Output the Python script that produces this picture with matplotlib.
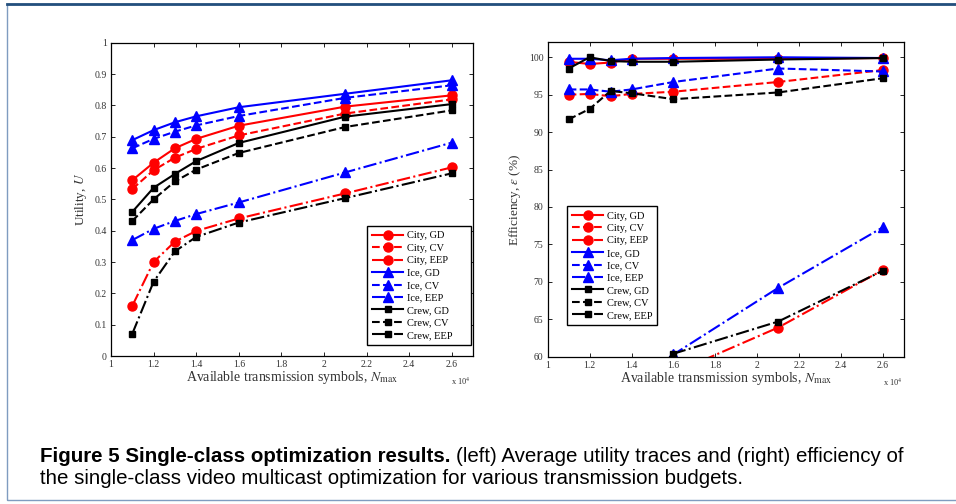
import matplotlib
matplotlib.use('Agg')
import matplotlib.pyplot as plt
from matplotlib.patches import Rectangle
from matplotlib.lines import Line2D

#################### DATA ####################
budget = [1.1, 1.2, 1.3, 1.4, 1.6, 2.1, 2.6]   # x 10^4 symbols

# utility (left)
city_gd_u = [0.561, 0.617, 0.663, 0.693, 0.735, 0.796, 0.832]
city_cv_u = [0.533, 0.593, 0.633, 0.661, 0.704, 0.774, 0.819]
city_eep_u = [0.160, 0.300, 0.365, 0.399, 0.439, 0.519, 0.602]
ice_gd_u = [0.689, 0.721, 0.746, 0.765, 0.794, 0.837, 0.880]
ice_cv_u = [0.663, 0.693, 0.716, 0.736, 0.766, 0.824, 0.864]
ice_eep_u = [0.370, 0.406, 0.431, 0.453, 0.490, 0.586, 0.681]
crew_gd_u = [0.460, 0.537, 0.581, 0.622, 0.680, 0.764, 0.804]
crew_cv_u = [0.431, 0.500, 0.557, 0.595, 0.648, 0.731, 0.784]
crew_eep_u = [0.071, 0.237, 0.334, 0.380, 0.426, 0.504, 0.583]

# efficiency in % (right)
city_gd_e = [99.4, 99.1, 99.3, 99.8, 99.8, 99.8, 99.9]
city_cv_e = [95.0, 95.1, 94.8, 95.1, 95.4, 96.7, 98.3]
city_eep_e = [30.0, 45.0, 51.0, 54.0, 57.8, 63.9, 71.6]
ice_gd_e = [99.8, 99.8, 99.6, 99.8, 99.9, 100.0, 99.9]
ice_cv_e = [95.7, 95.7, 95.4, 95.7, 96.7, 98.5, 98.1]
ice_eep_e = [45.0, 50.0, 53.0, 56.0, 60.3, 69.2, 77.3]
crew_gd_e = [98.5, 100.0, 99.5, 99.4, 99.4, 99.7, 99.9]
crew_cv_e = [91.7, 93.1, 95.5, 95.2, 94.4, 95.3, 97.2]
crew_eep_e = [15.0, 40.0, 50.0, 55.0, 60.4, 64.7, 71.5]

labels = ['City, GD', 'City, CV', 'City, EEP',
          'Ice, GD', 'Ice, CV', 'Ice, EEP',
          'Crew, GD', 'Crew, CV', 'Crew, EEP']

utility = [city_gd_u, city_cv_u, city_eep_u, ice_gd_u, ice_cv_u, ice_eep_u,
           crew_gd_u, crew_cv_u, crew_eep_u]
efficiency = [city_gd_e, city_cv_e, city_eep_e, ice_gd_e, ice_cv_e, ice_eep_e,
              crew_gd_e, crew_cv_e, crew_eep_e]

colors = ['r'] * 3 + ['b'] * 3 + ['k'] * 3
markers = ['o'] * 3 + ['^'] * 3 + ['s'] * 3
msizes = [6.5] * 3 + [6.5] * 3 + [5] * 3
styles = ['-', '--', '-.'] * 3

#################### PLOT ####################
serif = 'Liberation Serif'
plt.rcParams['mathtext.fontset'] = 'stix'

fig = plt.figure(figsize=(9.56, 5.04), dpi=100)

# frame around the figure box
fig.patches.append(Rectangle((7 / 956, 4 / 504), 1.2, 1 - 8 / 504,
                             transform=fig.transFigure, fill=False,
                             edgecolor='#7f9cc0', linewidth=1.0))
fig.lines.append(Line2D([7 / 956, 1], [1 - 4 / 504, 1 - 4 / 504],
                        transform=fig.transFigure, color='#234f7d', linewidth=2))

ax1 = fig.add_axes([111 / 956, 148 / 504, 362 / 956, 313.3 / 504])
ax2 = fig.add_axes([547.7 / 956, 147.3 / 504, 356.3 / 956, 314.4 / 504])


def style_axes(ax):
    ax.tick_params(direction='in', top=True, right=True, length=3, width=0.6,
                   labelsize=7, pad=3)
    for s in ax.spines.values():
        s.set_linewidth(0.9)
    ax.set_xlim(1, 2.7)
    ax.set_xticks([1, 1.2, 1.4, 1.6, 1.8, 2, 2.2, 2.4, 2.6])
    ax.set_xticklabels(['1', '1.2', '1.4', '1.6', '1.8', '2', '2.2', '2.4', '2.6'],
                       family=serif, fontsize=7, color='#333333')


for i in range(9):
    ax1.plot(budget, utility[i], color=colors[i], linestyle=styles[i],
             marker=markers[i], markersize=msizes[i], linewidth=1.5,
             label=labels[i])
    ax2.plot(budget, efficiency[i], color=colors[i], linestyle=styles[i],
             marker=markers[i], markersize=msizes[i], linewidth=1.5,
             label=labels[i])

ax1.set_ylim(0, 1)
ax1.set_yticks([0, 0.1, 0.2, 0.3, 0.4, 0.5, 0.6, 0.7, 0.8, 0.9, 1])
ax1.set_yticklabels(['0', '0.1', '0.2', '0.3', '0.4', '0.5', '0.6', '0.7', '0.8', '0.9', '1'],
                    family=serif, fontsize=7, color='#333333')
ax2.set_ylim(60, 102)
ax2.set_yticks([60, 65, 70, 75, 80, 85, 90, 95, 100])
ax2.set_yticklabels(['60', '65', '70', '75', '80', '85', '90', '95', '100'],
                    family=serif, fontsize=7, color='#333333')
style_axes(ax1)
style_axes(ax2)

ax1.set_ylabel('Utility, $U$', family=serif, fontsize=9.5, color='#333333', labelpad=4)
ax2.set_ylabel('Efficiency, $\\varepsilon$ (%)', family=serif, fontsize=9.5,
               color='#333333', labelpad=4)
for ax in (ax1, ax2):
    ax.set_xlabel('Available transmission symbols, $N_{\\mathrm{max}}$',
                  family=serif, fontsize=10, color='#333333', labelpad=0)
    ax.text(0.94, -0.062, 'x 10$^4$', transform=ax.transAxes, family=serif,
            fontsize=6, color='#333333', ha='left', va='top')

leg_kw = dict(prop={'family': serif, 'size': 7.5}, fancybox=False, mode='expand',
              edgecolor='k', framealpha=1, handlelength=3.0, labelspacing=0.3,
              borderpad=0.5, handletextpad=0.3, borderaxespad=0)
leg1 = ax1.legend(loc='lower left', bbox_to_anchor=(0.707, 0.035, 0.287, 0.1), **leg_kw)
leg2 = ax2.legend(loc='upper left', bbox_to_anchor=(0.054, 0.379, 0.253, 0.1), **leg_kw)
for lg in (leg1, leg2):
    lg.get_frame().set_linewidth(1.0)

# caption
cap_font = ['Liberation Sans', 'DejaVu Sans']
bold_txt = fig.text(40 / 956, 1 - 462 / 504, 'Figure 5 Single-class optimization results.',
                    family=cap_font, fontsize=14.8, fontweight='bold', va='baseline')
fig.canvas.draw()
bb = bold_txt.get_window_extent(fig.canvas.get_renderer())
fig.text(bb.x1 / 956 + 5 / 956, 1 - 462 / 504,
         '(left) Average utility traces and (right) efficiency of',
         family=cap_font, fontsize=14.8, va='baseline')
fig.text(40 / 956, 1 - 484 / 504,
         'the single-class video multicast optimization for various transmission budgets.',
         family=cap_font, fontsize=14.8, va='baseline')

fig.savefig('out.png', dpi=100)
